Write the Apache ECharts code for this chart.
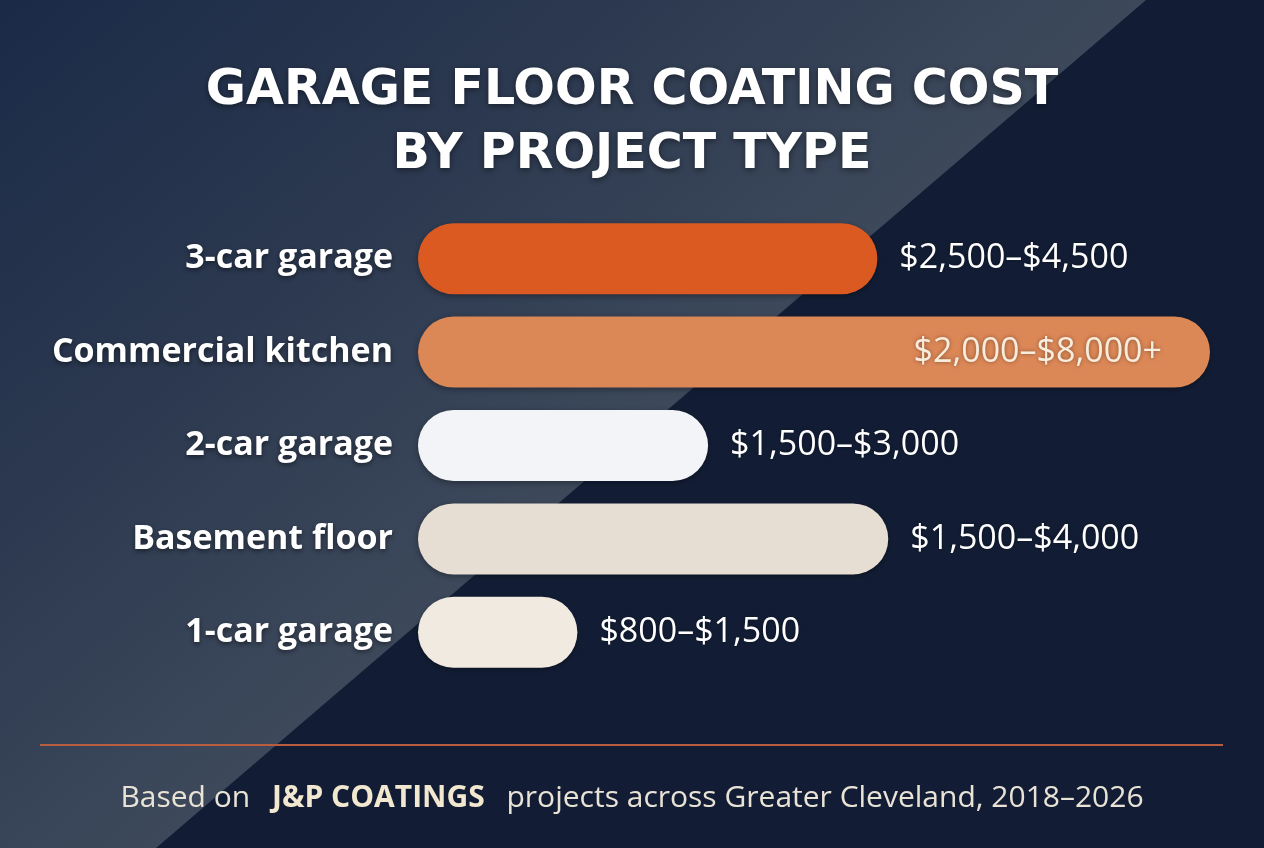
<!DOCTYPE html>
<html>
<head>
<meta charset="utf-8">
<script src="https://cdn.jsdelivr.net/npm/echarts@6/dist/echarts.min.js"></script>
<style>
  html, body { margin: 0; padding: 0; background: #121d35; }
  #chart { width: 1264px; height: 848px; }
</style>
</head>
<body>
<div id="chart"></div>
<script>
// project types, top to bottom
var categories = ['3-car garage', 'Commercial kitchen', '2-car garage', 'Basement floor', '1-car garage'];
// cost ranges in dollars
var lowCost = [2500, 2000, 1500, 1500, 800];
var highCost = [4500, 8000, 3000, 4000, 1500];
var openEnded = [false, true, false, false, false];
// bar length as drawn in the picture (dollars on the hidden axis)
var barValue = [4640, 8000, 2930, 4750, 1610];
var barColors = ['#da5a22', '#dc8756', '#f3f4f7', '#e6ddd3', '#f0eae0'];

function money(v) {
    return '$' + v.toLocaleString('en-US');
}

var chart = echarts.init(document.getElementById('chart'));

var seriesData = categories.map(function (c, i) {
    var item = {
        value: barValue[i],
        itemStyle: { color: barColors[i] }
    };
    if (i === 1) {
        // long bar carries its label inside
        item.label = {
            position: 'insideRight',
            distance: 48,
            color: '#f8ecdc'
        };
    }
    return item;
});

var option = {
    backgroundColor: '#121d35',
    graphic: [
        {
            type: 'polygon',
            silent: true,
            z: -10,
            shape: { points: [[0, 0], [1146, 0], [156, 848], [0, 848]] },
            style: {
                fill: {
                    type: 'linear', global: true,
                    x: 0, y: 0, x2: 481, y2: 567,
                    colorStops: [
                        { offset: 0, color: '#1b2a47' },
                        { offset: 0.55, color: '#2c3950' },
                        { offset: 1, color: '#3d495b' }
                    ]
                }
            }
        },
        {
            type: 'line',
            silent: true,
            shape: { x1: 40, y1: 745, x2: 1223, y2: 745 },
            style: { stroke: '#b95d40', lineWidth: 2 }
        }
    ],
    title: [
        {
            text: 'GARAGE FLOOR COATING COST\nBY PROJECT TYPE',
            left: 'center',
            top: 54,
            textStyle: {
                color: '#ffffff',
                fontFamily: 'DejaVu Sans',
                fontWeight: 'bold',
                fontSize: 49,
                lineHeight: 64,
                textShadowColor: 'rgba(0,0,0,0.45)',
                textShadowBlur: 6,
                textShadowOffsetY: 2
            }
        },
        {
            text: 'Based on {b|J&P COATINGS} projects across Greater Cleveland, 2018–2026',
            left: 'center',
            top: 778,
            textStyle: {
                color: '#e9e3d6',
                fontFamily: 'Open Sans',
                fontWeight: 'normal',
                fontSize: 30,
                rich: {
                    b: {
                        color: '#f2e7cf',
                        fontFamily: 'Open Sans',
                        fontWeight: 'bold',
                        fontSize: 30,
                        padding: [0, 14, 0, 14]
                    }
                }
            }
        }
    ],
    grid: {
        left: 418,
        right: 54,
        top: 212,
        height: 467
    },
    xAxis: {
        type: 'value',
        min: 0,
        max: 8000,
        show: false
    },
    yAxis: {
        type: 'category',
        inverse: true,
        data: categories,
        axisLine: { show: false },
        axisTick: { show: false },
        axisLabel: {
            margin: 25,
            color: '#ffffff',
            fontFamily: 'Open Sans',
            fontWeight: 'bold',
            fontSize: 34,
            textShadowColor: 'rgba(0,0,0,0.5)',
            textShadowBlur: 5,
            textShadowOffsetY: 2
        }
    },
    series: [{
        type: 'bar',
        barWidth: 71,
        data: seriesData,
        itemStyle: {
            borderRadius: 35.5,
            shadowColor: 'rgba(0,0,0,0.35)',
            shadowBlur: 6,
            shadowOffsetY: 2
        },
        label: {
            show: true,
            position: 'right',
            distance: 22,
            color: '#ffffff',
            fontFamily: 'Open Sans',
            fontSize: 34,
            textShadowColor: 'rgba(0,0,0,0.4)',
            textShadowBlur: 4,
            formatter: function (p) {
                var i = p.dataIndex;
                return money(lowCost[i]) + '–' + money(highCost[i]) + (openEnded[i] ? '+' : '');
            }
        },
        silent: true,
        animation: false
    }],
    animation: false
};

chart.setOption(option);
</script>
</body>
</html>
